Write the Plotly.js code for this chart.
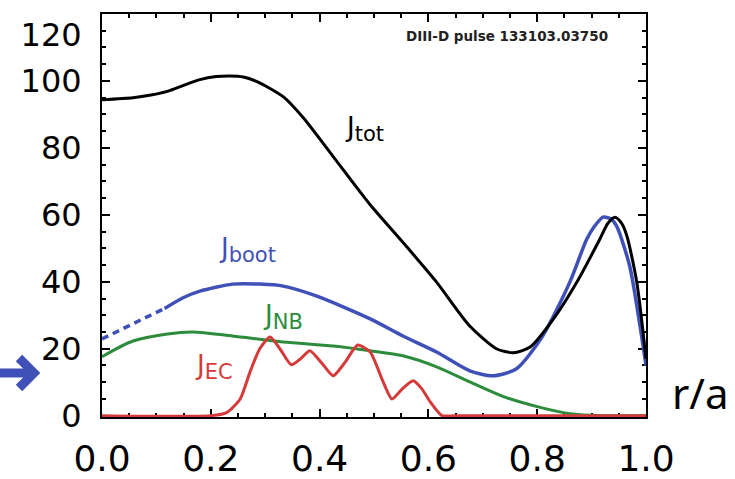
<!DOCTYPE html>
<html>
<head>
<meta charset="utf-8">
<script src="https://cdn.plot.ly/plotly-3.0.1.min.js"></script>
<style>html,body{margin:0;padding:0;background:#fff;}#chart{width:735px;height:479px;}</style>
</head>
<body>
<div id="chart"></div>
<script>
// r/a positions and current densities
const rTot = [0.0, 0.057, 0.09, 0.12, 0.15, 0.18, 0.21, 0.235, 0.26, 0.285, 0.333, 0.37, 0.425, 0.493, 0.553, 0.615, 0.676, 0.725, 0.756, 0.787, 0.83, 0.873, 0.915, 0.93, 0.943, 0.955, 0.965, 0.983, 1.0];
const jTot = [94.4, 95.0, 95.8, 96.9, 98.7, 100.4, 101.3, 101.5, 101.2, 99.8, 95.3, 89.0, 77.4, 63.0, 51.8, 39.9, 26.8, 20.0, 18.8, 20.5, 28.9, 39.9, 52.7, 57.5, 59.3, 57.5, 53.6, 39.9, 17.0];

const rBootDash = [0.0, 0.04, 0.08, 0.115];
const jBootDash = [22.9, 26.2, 29.3, 32.0];
const rBoot = [0.115, 0.15, 0.18, 0.24, 0.29, 0.333, 0.395, 0.493, 0.553, 0.615, 0.676, 0.719, 0.762, 0.81, 0.86, 0.891, 0.905, 0.921, 0.935, 0.946, 0.97, 0.989, 1.0];
const jBoot = [32.0, 35.3, 37.2, 39.3, 39.3, 38.7, 35.7, 28.9, 23.8, 19.0, 13.4, 11.9, 14.0, 23.8, 39.9, 52.7, 56.5, 59.3, 58.8, 56.6, 44.7, 26.8, 15.0];

const rNB = [0.0, 0.057, 0.12, 0.167, 0.24, 0.333, 0.425, 0.493, 0.553, 0.615, 0.676, 0.738, 0.8, 0.86, 0.92, 1.0];
const jNB = [17.6, 22.3, 24.4, 25.0, 23.8, 22.0, 20.8, 19.4, 17.9, 14.6, 10.1, 5.7, 2.7, 0.6, 0.0, 0.0];

const rEC = [0.0, 0.2, 0.23, 0.254, 0.272, 0.29, 0.309, 0.327, 0.348, 0.365, 0.382, 0.405, 0.425, 0.447, 0.47, 0.493, 0.517, 0.533, 0.552, 0.572, 0.588, 0.603, 0.625, 0.65, 1.0];
const jEC = [0.0, 0.0, 1.0, 5.0, 13.0, 20.0, 23.5, 20.0, 15.2, 17.0, 19.4, 15.5, 11.9, 16.0, 21.1, 19.0, 10.0, 5.0, 8.0, 10.4, 8.0, 4.2, 0.0, 0.0, 0.0];

const xTicks = [0.0, 0.2, 0.4, 0.6, 0.8, 1.0];
const yTicks = [0, 20, 40, 60, 80, 100, 120];

const cBlack = '#000000', cBlue = '#3f50b8', cGreen = '#2c8c3c', cRed = '#d53a3a';

const traces = [
  {x: rNB, y: jNB, mode: 'lines', line: {color: cGreen, width: 3, shape: 'spline', smoothing: 0.8}},
  {x: rBootDash, y: jBootDash, mode: 'lines', line: {color: cBlue, width: 3.5, dash: '7px,5px'}},
  {x: rBoot, y: jBoot, mode: 'lines', line: {color: cBlue, width: 3.5, shape: 'spline', smoothing: 0.7}},
  {x: rTot, y: jTot, mode: 'lines', line: {color: cBlack, width: 3, shape: 'spline', smoothing: 0.7}},
  {x: rEC, y: jEC, mode: 'lines', line: {color: cRed, width: 3, shape: 'spline', smoothing: 0.6}}
];

const tickFont = {family: 'DejaVu Sans', color: '#000'};
const labFont = {family: 'DejaVu Sans', size: 26};
function lab(main, sub) {
  return main + '<sub><span style="font-size:21px">' + sub + '</span></sub>';
}
// the top label sits a little below its tick in the reference
const yTickText = yTicks.map(v => v === 120 ? '<br>120' : String(v));

const layout = {
  width: 735, height: 479,
  margin: {l: 102, r: 89, t: 14, b: 62},
  paper_bgcolor: '#fff', plot_bgcolor: '#fff',
  showlegend: false,
  xaxis: {
    range: [0, 1], tickvals: xTicks, ticktext: xTicks.map(v => v.toFixed(1)),
    showgrid: false, zeroline: false, showline: true, mirror: 'ticks',
    linecolor: '#000', linewidth: 2, ticks: 'inside', ticklen: 8, tickwidth: 2, tickcolor: '#000',
    minor: {ticks: 'inside', ticklen: 4, tickwidth: 2, dtick: 0.05, tickcolor: '#000', showgrid: false},
    tickfont: Object.assign({size: 36}, tickFont), ticklabelstandoff: 9, layer: 'below traces'
  },
  yaxis: {
    range: [-0.4, 120], tickvals: yTicks, ticktext: yTickText,
    showgrid: false, zeroline: false, showline: true, mirror: 'ticks',
    linecolor: '#000', linewidth: 2, ticks: 'inside', ticklen: 8, tickwidth: 2, tickcolor: '#000',
    minor: {ticks: 'inside', ticklen: 4, tickwidth: 2, dtick: 5, tickcolor: '#000', showgrid: false},
    tickfont: Object.assign({size: 32}, tickFont), ticklabelstandoff: 12, layer: 'below traces',
    ticklabeloverflow: 'allow'
  },
  shapes: [
    // blue arrow pointing at the axis (shaft + chevron head)
    {type: 'path', xref: 'paper', yref: 'paper', path: 'M -0.1875 0.1092 L -0.1342 0.1092',
     line: {color: cBlue, width: 9}},
    {type: 'path', xref: 'paper', yref: 'paper', path: 'M -0.1526 0.1464 L -0.1250 0.1092 L -0.1526 0.0720',
     line: {color: cBlue, width: 9}}
  ],
  annotations: [
    {xref: 'paper', yref: 'paper', x: 0.744, y: 0.946, xanchor: 'center', yanchor: 'middle',
     text: 'DIII-D pulse 133103.03750', showarrow: false,
     font: {family: 'DejaVu Sans', size: 13.5, color: '#222', weight: 'bold'}},
    {xref: 'x', yref: 'y', x: 0.483, y: 85.5, text: lab('J', 'tot'), showarrow: false, font: Object.assign({color: cBlack}, labFont)},
    {xref: 'x', yref: 'y', x: 0.267, y: 49.5, text: lab('J', 'boot'), showarrow: false, font: Object.assign({color: cBlue}, labFont)},
    {xref: 'x', yref: 'y', x: 0.333, y: 29.5, text: lab('J', 'NB'), showarrow: false, font: Object.assign({color: cGreen}, labFont)},
    {xref: 'x', yref: 'y', x: 0.206, y: 14.5, text: lab('J', 'EC'), showarrow: false, font: Object.assign({color: cRed}, labFont)},
    {xref: 'paper', yref: 'paper', x: 1.045, y: 0.062, xanchor: 'left', yanchor: 'middle', text: 'r/a', showarrow: false,
     font: {family: 'Noto Sans', size: 42, color: '#000'}}
  ]
};

Plotly.newPlot('chart', traces, layout, {displayModeBar: false, staticPlot: true});
</script>
</body>
</html>
